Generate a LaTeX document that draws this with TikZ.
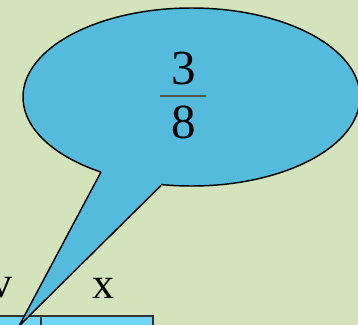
\documentclass[tikz,border=0pt]{standalone}
\usepackage{fontspec}
\setmainfont{Liberation Serif}
\definecolor{bgc}{HTML}{D3E3BC}
\definecolor{bubc}{HTML}{55BBDC}
\definecolor{boxc}{HTML}{70D6F8}
\definecolor{boxl}{HTML}{333333}
\definecolor{barc}{HTML}{555555}
\begin{document}
\begin{tikzpicture}[x=0.75pt,y=-0.75pt,
  lbl/.style={inner sep=0pt,font=\fontsize{33}{36}\selectfont},
  digit/.style={inner sep=0pt,font=\fontsize{36.75}{40}\selectfont},
  cell/.style={draw=boxl,line width=1.5pt,fill=boxc}]
\useasboundingbox (0,0) rectangle (358,325);
\clip (0,0) rectangle (358,325);
\fill[bgc] (0,0) rectangle (358,325);
% table cells
\draw[cell] (-10,316) rectangle (41,340);
\draw[cell] (41,316) rectangle (153,340);
\node[lbl] (v) at (1,288) {v};
\node[lbl] (x) at (103.5,288) {x};
% bubble
\draw[fill=bubc,line width=1.1pt] (191.5,97) ellipse [x radius=168.5, y radius=89];
\coordinate (t1) at (101,172);
\coordinate (t2) at (161,185.5);
\coordinate (tip) at (19,326);
\fill[bubc] (t1) -- (tip) -- (t2) -- (161,176) -- (101,164) -- cycle;
\draw[line width=1.1pt,line join=miter] (t1) -- (tip) -- (t2);
% fraction
\node[digit] (n3) at (184,68.5) {3};
\node[digit] (n8) at (184,122.5) {8};
\coordinate (b1) at (160,96);
\coordinate (b2) at (206,96);
\draw[barc,line width=1.4pt] (b1) -- (b2);
\end{tikzpicture}
\end{document}
